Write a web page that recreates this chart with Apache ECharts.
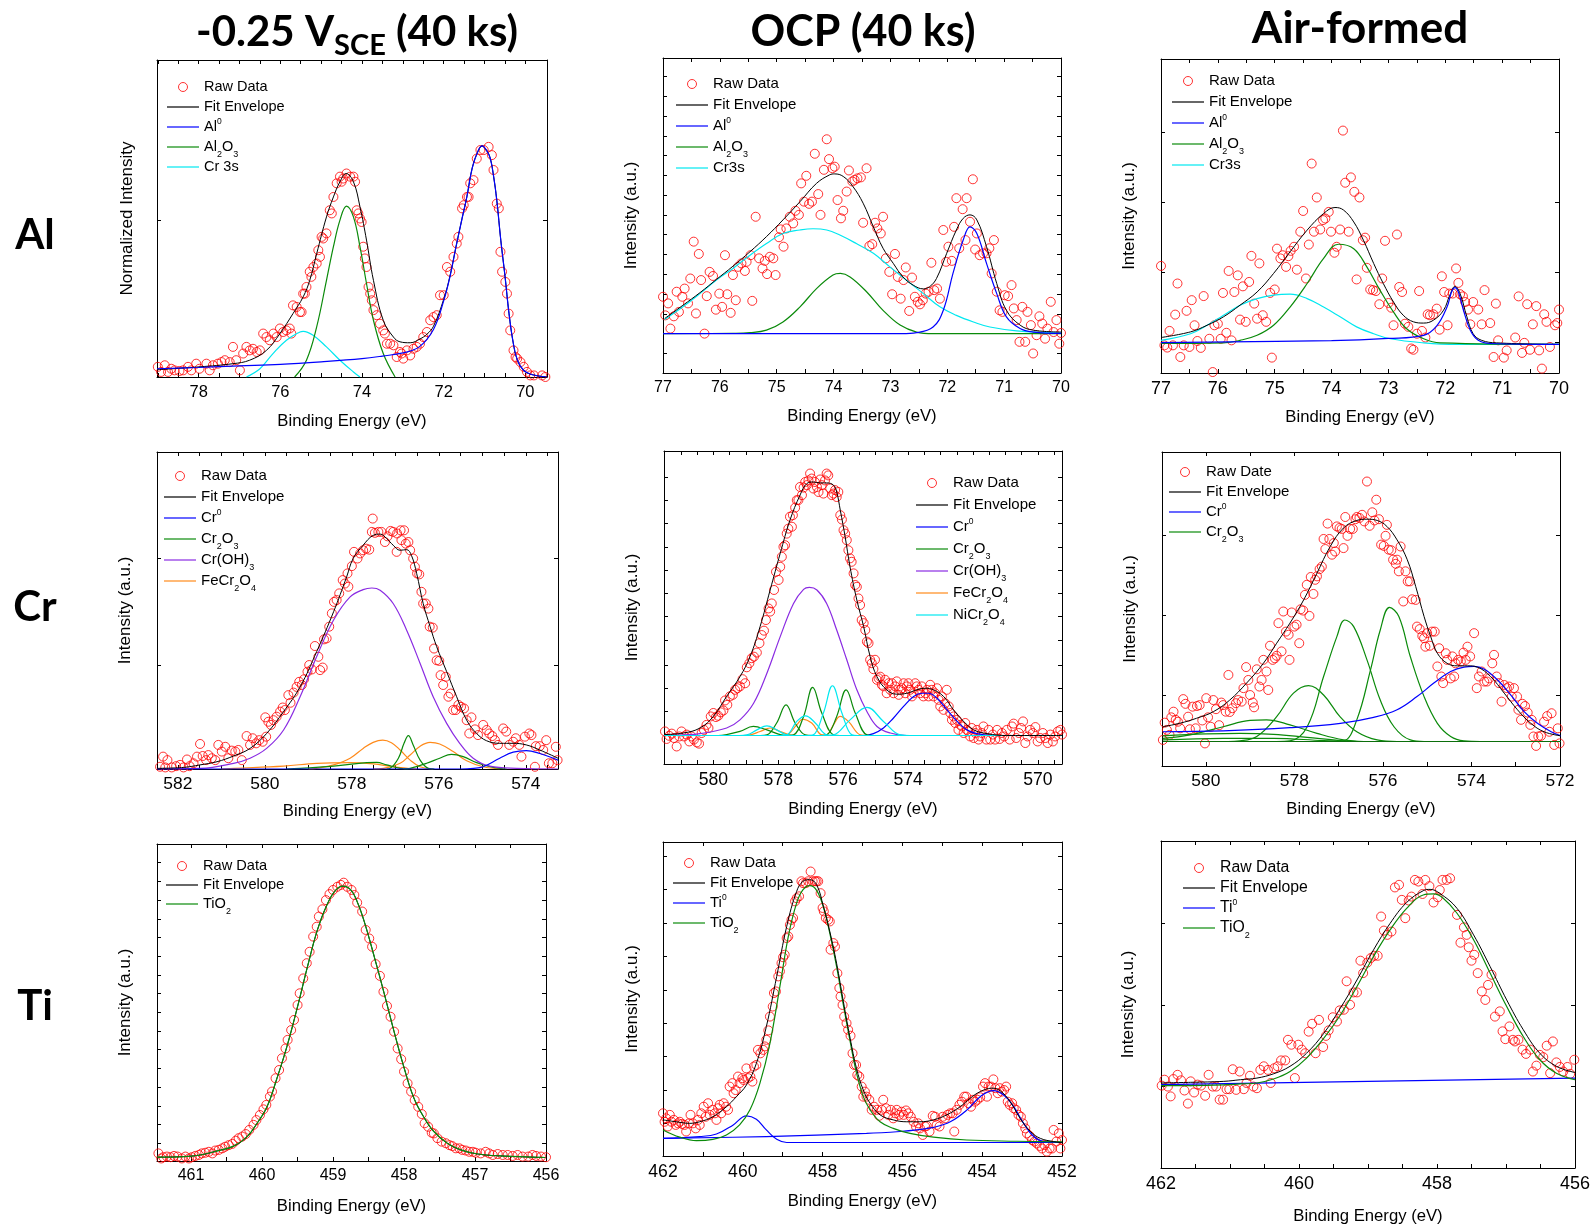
<!DOCTYPE html>
<html>
<head>
<meta charset="utf-8">
<title>XPS spectra</title>
<script src="https://cdn.jsdelivr.net/npm/echarts@6/dist/echarts.min.js"></script>
<style>
  html, body { margin: 0; padding: 0; background: #fff; }
  #chart { width: 1594px; height: 1228px; }
</style>
</head>
<body>
<div id="chart"></div>
<script>
// ---------------- Al 2p, -0.25 V_SCE ----------------
const alNegRaw = [[79.00,32],[78.92,16],[78.83,37],[78.75,16],[78.67,26],[78.59,21],[78.47,19],[78.38,21],[78.26,32],[78.18,21],[78.06,42],[77.98,26],[77.81,42],[77.73,21],[77.65,37],[77.53,42],[77.44,47],[77.36,53],[77.24,47],[77.16,95],[77.08,53],[76.99,21],[76.91,74],[76.83,95],[76.75,84],[76.67,89],[76.58,79],[76.50,84],[76.42,137],[76.34,126],[76.26,116],[76.17,137],[76.09,126],[76.01,153],[75.93,142],[75.85,147],[75.77,153],[75.73,137],[75.69,226],[75.60,221],[75.52,205],[75.48,205],[75.44,263],[75.40,263],[75.36,284],[75.28,332],[75.24,316],[75.19,347],[75.11,358],[75.07,400],[75.03,379],[74.99,442],[74.95,437],[74.87,453],[74.79,526],[74.74,516],[74.70,568],[74.62,611],[74.54,632],[74.50,616],[74.46,626],[74.38,642],[74.29,632],[74.21,632],[74.17,616],[74.13,526],[74.09,516],[74.05,500],[74.01,489],[73.97,411],[73.93,374],[73.89,347],[73.84,284],[73.80,263],[73.76,242],[73.72,211],[73.64,195],[73.56,168],[73.48,147],[73.44,137],[73.39,105],[73.31,105],[73.23,100],[73.15,63],[73.07,79],[73.03,74],[72.99,58],[72.90,84],[72.82,68],[72.74,89],[72.66,95],[72.58,105],[72.50,126],[72.41,142],[72.33,179],[72.25,189],[72.17,195],[72.09,258],[72.00,258],[71.92,347],[71.84,332],[71.76,379],[71.68,421],[71.64,442],[71.55,532],[71.51,542],[71.43,568],[71.39,568],[71.35,611],[71.27,621],[71.19,689],[71.10,716],[71.02,716],[70.90,726],[70.82,700],[70.78,653],[70.70,547],[70.65,532],[70.61,395],[70.57,332],[70.49,300],[70.45,263],[70.41,200],[70.37,147],[70.29,84],[70.24,63],[70.20,58],[70.12,47],[70.04,32],[69.96,16],[69.88,5],[69.79,5],[69.59,5],[69.51,0]];
const alNegEnvelope = [[79.02,23],[77.98,32],[77.16,42],[76.75,53],[76.34,84],[76.01,137],[75.69,200],[75.44,253],[75.28,305],[75.11,389],[74.87,505],[74.70,568],[74.54,616],[74.39,642],[74.21,616],[74.05,537],[73.89,432],[73.72,305],[73.48,179],[73.23,126],[73.07,111],[72.82,108],[72.58,120],[72.41,135],[72.25,160],[72.0,245],[71.84,322],[71.7,410],[71.55,500],[71.43,570],[71.3,660],[71.15,715],[71.06,729],[70.95,715],[70.86,690],[70.78,635],[70.70,558],[70.6,430],[70.5,320],[70.4,200],[70.3,110],[70.2,55],[70.05,22],[69.85,8],[69.47,0]];
const alNegAl0 = [[79.02,26],[78.0,30],[77.0,35],[76.0,40],[75.0,48],[74.0,58],[73.5,66],[73.0,76],[72.6,95],[72.25,150],[72.0,240],[71.84,320],[71.7,410],[71.55,500],[71.43,570],[71.3,660],[71.15,715],[71.06,729],[70.95,715],[70.86,690],[70.78,635],[70.70,558],[70.6,430],[70.5,320],[70.4,200],[70.3,110],[70.2,55],[70.05,22],[69.85,8],[69.47,0]];
const alNegAl2O3 = [[75.65,0],[75.36,53],[75.11,158],[74.87,305],[74.70,411],[74.54,495],[74.38,539],[74.21,505],[74.05,411],[73.89,295],[73.72,179],[73.48,74],[73.19,0]];
const alNegCr3s = [[76.83,0],[76.50,26],[76.18,74],[75.85,116],[75.52,142],[75.44,144],[75.19,131],[74.87,95],[74.54,53],[74.21,16],[74.05,0]];

// ---------------- Al 2p, OCP ----------------
const alOcpRaw = [[77.00,242],[76.96,183],[76.91,221],[76.87,141],[76.81,180],[76.76,258],[76.72,194],[76.66,242],[76.62,268],[76.56,221],[76.52,300],[76.46,417],[76.42,189],[76.37,378],[76.33,295],[76.27,125],[76.23,244],[76.18,321],[76.12,308],[76.07,201],[76.01,252],[75.96,210],[75.91,374],[75.87,250],[75.81,191],[75.77,311],[75.72,231],[75.68,337],[75.62,348],[75.56,324],[75.53,353],[75.46,374],[75.43,229],[75.37,496],[75.31,364],[75.25,332],[75.21,356],[75.17,314],[75.12,369],[75.06,364],[75.02,311],[74.96,431],[74.93,456],[74.88,401],[74.83,459],[74.77,496],[74.71,475],[74.67,515],[74.61,502],[74.57,602],[74.52,544],[74.48,626],[74.43,537],[74.38,544],[74.33,696],[74.27,568],[74.23,502],[74.17,645],[74.12,742],[74.08,679],[74.02,650],[73.98,655],[73.93,549],[73.87,491],[73.83,515],[73.77,576],[73.73,643],[73.67,608],[73.63,613],[73.58,618],[73.52,621],[73.48,477],[73.42,650],[73.37,403],[73.32,409],[73.27,477],[73.23,459],[73.17,443],[73.13,496],[73.08,364],[73.02,321],[72.97,250],[72.92,378],[72.87,305],[72.82,236],[72.77,295],[72.73,335],[72.67,197],[72.62,303],[72.57,242],[72.52,226],[72.48,218],[72.43,231],[72.38,252],[72.33,258],[72.28,350],[72.23,263],[72.18,268],[72.13,236],[72.07,454],[72.02,353],[71.98,401],[71.92,356],[71.88,464],[71.84,555],[71.79,396],[71.73,520],[71.68,422],[71.66,555],[71.60,480],[71.55,615],[71.51,392],[71.48,443],[71.43,374],[71.37,380],[71.31,380],[71.26,396],[71.22,316],[71.18,422],[71.13,258],[71.08,199],[71.03,194],[70.99,247],[70.93,244],[70.87,279],[70.83,205],[70.78,168],[70.73,99],[70.68,210],[70.63,99],[70.59,194],[70.53,152],[70.49,62],[70.43,120],[70.38,180],[70.33,157],[70.28,109],[70.24,141],[70.18,226],[70.13,130],[70.08,168],[70.03,93],[70.00,127]];
const alOcpEnvelope = [[76.97,173],[76.65,215],[76.35,255],[76.06,297],[75.77,339],[75.47,385],[75.18,433],[74.89,486],[74.59,544],[74.30,602],[74.07,629],[73.98,632],[73.83,624],[73.66,592],[73.48,539],[73.30,464],[73.13,396],[72.95,348],[72.78,305],[72.60,279],[72.42,267],[72.31,274],[72.19,300],[72.01,380],[71.84,454],[71.72,491],[71.60,502],[71.48,486],[71.31,401],[71.13,284],[70.96,199],[70.72,152],[70.49,136],[70.0,130]];
const alOcpAl0 = [[77.0,125],[72.8,125],[72.54,128],[72.25,146],[72.07,199],[71.90,316],[71.72,422],[71.60,464],[71.48,443],[71.31,348],[71.13,252],[70.96,178],[70.72,141],[70.49,130],[70.0,126]];
const alOcpAl2O3 = [[77.0,125],[75.77,126],[75.47,128],[75.18,136],[74.89,162],[74.59,210],[74.30,268],[74.01,311],[73.88,316],[73.71,305],[73.42,258],[73.13,199],[72.83,152],[72.54,130],[72.25,125],[70.0,125]];
const alOcpCr3s = [[76.97,170],[76.65,210],[76.35,252],[76.06,295],[75.77,332],[75.47,374],[75.18,411],[74.89,443],[74.59,454],[74.36,458],[74.12,454],[73.89,438],[73.60,411],[73.30,380],[73.01,337],[72.72,295],[72.42,252],[72.13,210],[71.84,183],[71.54,162],[71.25,146],[70.78,134],[70.00,127]];

// ---------------- Al 2p, air-formed ----------------
const alAirRaw = [[77.00,341],[76.94,88],[76.89,81],[76.85,134],[76.79,88],[76.75,186],[76.71,285],[76.66,51],[76.60,88],[76.55,198],[76.50,83],[76.46,232],[76.41,152],[76.36,102],[76.30,80],[76.25,245],[76.15,109],[76.09,3],[76.06,152],[76.00,157],[75.95,109],[75.91,255],[75.85,128],[75.81,325],[75.76,104],[75.71,258],[75.65,311],[75.61,170],[75.56,276],[75.51,163],[75.45,290],[75.41,373],[75.36,221],[75.31,173],[75.27,349],[75.21,184],[75.15,163],[75.08,255],[75.05,49],[75.00,266],[74.96,396],[74.90,365],[74.86,375],[74.80,338],[74.76,372],[74.72,389],[74.66,402],[74.61,329],[74.55,450],[74.50,516],[74.45,301],[74.40,409],[74.35,667],[74.31,450],[74.26,559],[74.20,457],[74.15,487],[74.11,492],[74.05,513],[74.01,450],[73.95,383],[73.91,402],[73.85,457],[73.80,772],[73.76,606],[73.70,450],[73.66,623],[73.60,577],[73.56,298],[73.51,559],[73.45,423],[73.41,431],[73.38,335],[73.32,266],[73.27,264],[73.22,261],[73.16,219],[73.11,301],[73.06,421],[73.00,223],[72.95,208],[72.91,152],[72.85,441],[72.81,274],[72.76,258],[72.71,157],[72.65,147],[72.60,78],[72.56,74],[72.50,125],[72.46,261],[72.41,134],[72.35,113],[72.31,187],[72.27,184],[72.21,187],[72.15,205],[72.10,138],[72.06,308],[72.02,258],[71.96,152],[71.93,253],[71.87,253],[71.81,333],[71.77,287],[71.74,251],[71.69,244],[71.65,226],[71.60,202],[71.56,155],[71.51,226],[71.42,202],[71.36,155],[71.31,264],[71.21,159],[71.15,51],[71.11,221],[71.07,104],[70.97,49],[70.92,72],[70.77,113],[70.71,244],[70.65,64],[70.61,96],[70.56,219],[70.51,74],[70.46,155],[70.40,213],[70.35,72],[70.30,14],[70.26,187],[70.22,163],[70.16,83],[70.07,152],[70.03,159],[70.00,202]];
const alAirEnvelope = [[77.0,113],[76.48,131],[76.19,152],[75.90,179],[75.61,216],[75.31,258],[75.02,317],[74.73,386],[74.43,455],[74.14,508],[73.94,527],[73.79,519],[73.61,481],[73.44,423],[73.26,349],[73.09,285],[72.91,226],[72.74,184],[72.56,163],[72.38,159],[72.21,168],[72.03,200],[71.92,248],[71.83,276],[71.74,253],[71.62,179],[71.51,125],[71.36,104],[71.10,96],[70.0,91]];
const alAirAl0 = [[77.0,97],[74.0,103],[73.0,110],[72.38,120],[72.15,150],[71.97,210],[71.89,258],[71.83,272],[71.77,258],[71.68,200],[71.56,136],[71.42,104],[71.21,94],[70.0,91]];
const alAirAl2O3 = [[77.0,94],[75.90,96],[75.61,104],[75.31,120],[75.02,152],[74.73,210],[74.43,285],[74.14,365],[73.88,410],[73.61,396],[73.38,338],[73.15,264],[72.91,194],[72.68,141],[72.38,109],[72.09,96],[70.0,91]];
const alAirCr3s = [[77.0,104],[76.48,125],[76.19,152],[75.90,184],[75.61,216],[75.31,237],[75.02,248],[74.73,251],[74.43,237],[74.14,210],[73.85,179],[73.56,147],[73.26,125],[72.97,109],[72.38,96],[71.80,91],[70.0,91]];

// ---------------- Cr 2p3/2, -0.25 V_SCE ----------------
const crNegRaw = [[582.41,7],[582.34,39],[582.29,5],[582.24,28],[582.14,5],[582.04,9],[581.95,13],[581.87,5],[581.79,30],[581.73,9],[581.64,18],[581.56,39],[581.49,79],[581.43,41],[581.35,28],[581.30,44],[581.22,34],[581.14,28],[581.07,76],[580.99,55],[580.91,70],[580.84,34],[580.76,58],[580.68,55],[580.61,60],[580.53,28],[580.42,104],[580.34,76],[580.28,97],[580.20,81],[580.13,91],[580.05,86],[579.99,163],[579.97,102],[579.92,149],[579.86,139],[579.80,154],[579.73,165],[579.65,181],[579.59,194],[579.54,186],[579.46,233],[579.41,209],[579.34,241],[579.27,259],[579.21,275],[579.15,265],[579.10,283],[579.02,307],[578.98,328],[578.92,314],[578.85,388],[578.77,354],[578.73,312],[578.67,320],[578.64,409],[578.58,412],[578.52,449],[578.46,491],[578.41,527],[578.35,533],[578.29,554],[578.21,596],[578.16,585],[578.10,617],[578.08,575],[578.00,640],[577.95,685],[577.87,664],[577.81,680],[577.74,690],[577.67,695],[577.60,692],[577.54,748],[577.52,790],[577.47,745],[577.39,748],[577.32,748],[577.24,716],[577.18,734],[577.11,751],[577.05,748],[576.97,685],[576.96,743],[576.88,753],[576.86,722],[576.80,753],[576.76,711],[576.70,716],[576.66,690],[576.59,664],[576.55,638],[576.50,617],[576.45,614],[576.40,559],[576.36,522],[576.30,522],[576.24,506],[576.21,449],[576.14,446],[576.11,380],[576.05,343],[575.99,341],[575.96,296],[575.90,265],[575.84,291],[575.78,228],[575.73,238],[575.67,186],[575.61,186],[575.55,202],[575.49,196],[575.42,191],[575.36,154],[575.30,112],[575.25,163],[575.17,125],[575.10,107],[574.98,139],[574.90,123],[574.84,112],[574.77,104],[574.71,91],[574.64,76],[574.52,128],[574.45,118],[574.38,76],[574.29,86],[574.23,97],[574.15,76],[574.10,39],[574.02,102],[573.92,112],[573.87,107],[573.79,7],[573.77,72],[573.68,72],[573.60,60],[573.53,91],[573.47,18],[573.39,18],[573.31,70],[573.27,28]];
const crNegEnvelope = [[582.48,2],[581.87,5],[581.49,13],[581.10,23],[580.72,41],[580.34,65],[579.96,112],[579.57,181],[579.19,259],[578.81,370],[578.42,496],[578.12,606],[577.97,664],[577.74,706],[577.51,737],[577.35,741],[577.20,727],[577.05,706],[576.89,690],[576.74,692],[576.63,674],[576.51,617],[576.36,522],[576.20,449],[576.05,386],[575.82,307],[575.59,228],[575.36,154],[575.13,112],[574.90,89],[574.60,81],[574.29,81],[573.99,76],[573.68,60],[573.26,34]];
const crNegCr0 = [[582.48,0],[575.5,0],[575.2,2],[574.98,7],[574.60,34],[574.29,53],[573.99,58],[573.68,49],[573.26,28]];
const crNegCrOH3 = [[582.48,0],[581.49,2],[580.72,18],[580.34,34],[579.96,65],[579.57,123],[579.19,228],[578.81,354],[578.42,470],[578.04,543],[577.74,566],[577.54,571],[577.35,564],[577.05,522],[576.74,438],[576.43,333],[576.13,228],[575.82,144],[575.52,81],[575.21,34],[574.83,9],[574.21,2],[573.26,0]];
const crNegCr2O3A = [[577.2,0],[577.12,2],[576.93,34],[576.80,81],[576.70,105],[576.59,76],[576.43,28],[576.24,2],[576.1,0]];
const crNegCr2O3B = [[576.8,0],[576.66,2],[576.28,18],[575.98,34],[575.71,46],[575.44,39],[575.13,20],[574.75,5],[574.44,0]];
const crNegCr2O3C = [[579.5,0],[579.19,2],[578.42,9],[577.66,20],[577.43,21],[577.20,13],[576.89,2],[576.7,0]];
const crNegFeCr2O4A = [[579.0,0],[578.81,2],[578.42,13],[578.04,34],[577.74,65],[577.51,84],[577.29,91],[577.09,83],[576.89,60],[576.66,28],[576.43,7],[576.13,0]];
const crNegFeCr2O4B = [[577.5,0],[577.28,2],[576.89,18],[576.66,44],[576.43,72],[576.20,84],[575.98,79],[575.67,55],[575.36,26],[574.98,7],[574.60,0]];
const crNegFeCr2O4C = [[581.0,0],[580.72,2],[579.57,9],[578.81,18],[578.04,20],[577.51,16],[577.05,7],[576.51,0]];

// ---------------- Cr 2p3/2, OCP ----------------
const crOcpRaw = [[581.49,104],[581.44,80],[581.36,90],[581.28,97],[581.21,83],[581.13,56],[581.05,88],[580.98,104],[580.90,88],[580.82,94],[580.74,72],[580.67,88],[580.60,78],[580.51,69],[580.44,65],[580.36,99],[580.29,109],[580.21,125],[580.15,115],[580.08,152],[580.00,163],[579.92,150],[579.85,154],[579.77,165],[579.69,171],[579.64,203],[579.57,189],[579.49,216],[579.40,221],[579.33,237],[579.26,242],[579.18,248],[579.10,271],[579.02,258],[578.97,309],[578.89,322],[578.82,338],[578.75,343],[578.66,356],[578.58,386],[578.51,412],[578.44,426],[578.38,460],[578.30,497],[578.25,487],[578.20,513],[578.13,556],[578.07,614],[577.99,588],[577.94,630],[577.89,662],[577.84,694],[577.79,699],[577.74,736],[577.69,752],[577.64,790],[577.58,758],[577.55,795],[577.48,819],[577.43,843],[577.38,843],[577.33,885],[577.27,859],[577.22,883],[577.17,901],[577.12,891],[577.07,906],[577.02,928],[576.97,912],[576.92,880],[576.87,901],[576.81,885],[576.76,869],[576.71,909],[576.66,891],[576.61,864],[576.56,906],[576.51,928],[576.46,922],[576.40,880],[576.35,859],[576.30,864],[576.25,875],[576.20,853],[576.15,869],[576.09,795],[576.04,781],[575.99,747],[575.94,736],[575.89,715],[575.84,683],[575.79,657],[575.74,646],[575.68,609],[575.63,572],[575.58,566],[575.53,529],[575.48,508],[575.43,460],[575.37,450],[575.32,428],[575.27,391],[575.22,386],[575.17,333],[575.12,322],[575.07,303],[575.02,333],[574.96,269],[574.91,274],[574.86,279],[574.81,253],[574.76,248],[574.71,269],[574.66,226],[574.60,258],[574.55,237],[574.50,258],[574.45,226],[574.40,248],[574.35,264],[574.29,221],[574.24,237],[574.19,242],[574.14,258],[574.09,226],[574.04,248],[573.99,258],[573.94,237],[573.88,216],[573.83,226],[573.78,258],[573.73,248],[573.68,237],[573.63,226],[573.58,248],[573.53,216],[573.47,226],[573.42,237],[573.37,216],[573.32,253],[573.27,237],[573.22,216],[573.17,226],[573.11,242],[573.06,205],[573.01,184],[572.96,216],[572.91,173],[572.86,194],[572.81,237],[572.75,184],[572.70,163],[572.65,141],[572.60,152],[572.55,131],[572.50,141],[572.45,109],[572.39,125],[572.34,120],[572.29,99],[572.24,131],[572.19,109],[572.14,104],[572.09,88],[572.04,115],[571.98,83],[571.93,99],[571.88,109],[571.83,78],[571.78,88],[571.73,99],[571.68,120],[571.59,78],[571.52,109],[571.47,78],[571.39,94],[571.32,78],[571.26,109],[571.18,80],[571.11,99],[571.04,88],[570.96,109],[570.87,78],[570.80,120],[570.75,129],[570.67,83],[570.59,99],[570.52,115],[570.46,136],[570.39,67],[570.32,88],[570.24,109],[570.16,99],[570.08,118],[570.01,72],[569.93,83],[569.85,99],[569.77,83],[569.70,67],[569.62,94],[569.54,72],[569.47,88],[569.39,104],[569.31,109],[569.26,94]];
const crOcpEnvelope = [[581.52,94],[580.92,99],[580.41,115],[580.00,152],[579.59,216],[579.18,279],[578.87,343],[578.56,439],[578.25,556],[577.94,673],[577.64,779],[577.33,859],[577.12,896],[576.92,901],[576.71,898],[576.51,898],[576.30,891],[576.20,869],[576.09,811],[575.94,726],[575.79,630],[575.58,524],[575.37,439],[575.17,343],[574.96,279],[574.66,237],[574.35,223],[574.04,226],[573.73,237],[573.47,242],[573.22,237],[572.91,216],[572.60,173],[572.29,136],[571.98,109],[571.57,97],[570.96,91],[569.26,91]];
const crOcpCr0 = [[581.52,91],[575.4,91],[575.07,97],[574.76,115],[574.45,147],[574.14,184],[573.83,216],[573.57,226],[573.37,226],[573.11,210],[572.80,173],[572.49,136],[572.19,109],[571.88,97],[571.37,91],[569.26,91]];
const crOcpCrOH3 = [[581.52,91],[580.9,93],[580.41,97],[579.59,115],[579.18,141],[578.76,194],[578.35,290],[577.94,407],[577.53,513],[577.22,558],[577.04,564],[576.81,556],[576.51,513],[576.20,428],[575.89,333],[575.58,237],[575.27,168],[574.96,120],[574.55,99],[574.04,91],[569.26,91]];
const crOcpCr2O3A = [[581.52,91],[579.85,91],[579.59,94],[579.18,104],[578.77,120],[578.35,109],[577.94,94],[577.7,91],[569.26,91]];
const crOcpCr2O3B = [[581.52,91],[578.55,91],[578.35,93],[578.05,131],[577.76,189],[577.48,131],[577.17,93],[576.95,91],[569.26,91]];
const crOcpCr2O3C = [[581.52,91],[577.75,91],[577.53,93],[577.22,152],[576.94,245],[576.66,163],[576.30,93],[576.1,91],[569.26,91]];
const crOcpCr2O3D = [[581.52,91],[576.7,91],[576.51,93],[576.20,152],[575.91,237],[575.63,163],[575.27,93],[575.05,91],[569.26,91]];
const crOcpFeCr2O4A = [[581.52,91],[579.1,91],[578.87,93],[578.56,104],[578.25,115],[577.94,104],[577.64,93],[577.4,91],[569.26,91]];
const crOcpFeCr2O4B = [[581.52,91],[577.95,91],[577.74,93],[577.43,125],[577.25,143],[576.97,131],[576.66,93],[576.45,91],[569.26,91]];
const crOcpFeCr2O4C = [[581.52,91],[576.7,91],[576.51,93],[576.30,125],[576.09,152],[575.84,136],[575.47,93],[575.25,91],[569.26,91]];
const crOcpNiCr2O4A = [[581.52,91],[579.2,91],[578.97,93],[578.66,109],[578.35,122],[578.05,109],[577.74,93],[577.5,91],[569.26,91]];
const crOcpNiCr2O4B = [[581.52,91],[577.95,91],[577.74,93],[577.43,136],[577.16,154],[576.86,131],[576.51,93],[576.3,91],[569.26,91]];
const crOcpNiCr2O4C = [[581.52,91],[577.1,91],[576.92,93],[576.61,163],[576.33,250],[576.04,163],[575.73,93],[575.55,91],[569.26,91]];
const crOcpNiCr2O4D = [[581.52,91],[576.55,91],[576.30,93],[575.79,141],[575.27,181],[574.76,136],[574.24,93],[573.95,91],[569.26,91]];

// ---------------- Cr 2p3/2, air-formed ----------------
const crAirRaw = [[580.97,83],[580.93,138],[580.88,115],[580.82,99],[580.78,155],[580.73,173],[580.68,147],[580.63,141],[580.58,120],[580.51,213],[580.46,198],[580.40,157],[580.36,117],[580.30,189],[580.23,120],[580.20,191],[580.14,194],[580.08,145],[580.02,72],[579.99,216],[579.95,155],[579.89,125],[579.83,210],[579.77,181],[579.70,130],[579.65,202],[579.61,194],[579.55,173],[579.49,290],[579.46,172],[579.40,184],[579.32,200],[579.27,210],[579.19,205],[579.15,248],[579.09,315],[579.04,274],[579.00,226],[578.94,202],[578.91,187],[578.85,308],[578.79,253],[578.74,274],[578.70,338],[578.63,301],[578.59,242],[578.55,383],[578.49,338],[578.44,343],[578.40,351],[578.36,455],[578.29,365],[578.25,492],[578.19,428],[578.13,418],[578.11,338],[578.06,489],[578.00,444],[577.95,450],[577.89,391],[577.86,499],[577.80,495],[577.76,545],[577.72,577],[577.66,478],[577.63,602],[577.57,548],[577.53,593],[577.49,604],[577.43,627],[577.38,635],[577.34,723],[577.30,691],[577.25,772],[577.21,723],[577.15,673],[577.11,710],[577.08,683],[577.04,763],[576.98,758],[576.93,755],[576.89,694],[576.85,793],[576.80,733],[576.74,755],[576.68,755],[576.62,786],[576.59,793],[576.53,790],[576.47,800],[576.42,779],[576.36,906],[576.30,765],[576.24,808],[576.19,782],[576.15,848],[576.09,786],[576.04,705],[575.98,701],[575.94,733],[575.91,768],[575.87,689],[575.81,687],[575.77,657],[575.71,644],[575.68,657],[575.64,620],[575.60,699],[575.54,524],[575.49,620],[575.44,588],[575.39,588],[575.34,531],[575.26,529],[575.23,444],[575.17,436],[575.11,414],[575.07,407],[575.04,380],[575.00,423],[574.94,383],[574.89,428],[574.83,428],[574.77,317],[574.73,375],[574.68,285],[574.64,264],[574.58,359],[574.55,338],[574.47,279],[574.43,349],[574.39,285],[574.36,327],[574.30,338],[574.24,333],[574.18,361],[574.13,338],[574.09,380],[574.03,349],[573.94,423],[573.88,248],[573.83,285],[573.77,301],[573.71,269],[573.65,269],[573.60,279],[573.53,327],[573.49,354],[573.43,285],[573.38,264],[573.32,205],[573.26,258],[573.20,248],[573.15,253],[573.09,221],[573.04,248],[572.97,221],[572.94,179],[572.88,147],[572.85,198],[572.79,191],[572.73,170],[572.67,131],[572.64,147],[572.60,94],[572.54,64],[572.49,94],[572.43,96],[572.36,141],[572.29,159],[572.24,109],[572.19,168],[572.13,67],[572.05,120],[572.01,72]];
const crAirEnvelope = [[580.97,125],[580.59,136],[580.21,152],[579.83,173],[579.46,210],[579.08,264],[578.70,327],[578.40,391],[578.10,455],[577.79,529],[577.49,614],[577.19,699],[576.89,758],[576.59,782],[576.36,786],[576.13,782],[575.91,763],[575.68,720],[575.45,657],[575.26,572],[575.07,476],[574.92,412],[574.77,359],[574.55,327],[574.32,319],[574.09,319],[573.87,315],[573.57,285],[573.26,232],[572.96,179],[572.66,136],[572.36,109],[571.98,96]];
const crAirCr0 = [[580.97,109],[579.61,112],[578.10,122],[576.96,136],[576.21,155],[575.68,179],[575.23,221],[574.85,264],[574.47,301],[574.17,315],[573.94,317],[573.71,308],[573.41,274],[573.11,226],[572.81,173],[572.51,136],[572.20,109],[571.98,96]];
const crAirCr2O3A = [[577.2,78],[576.89,80],[576.59,147],[576.28,306],[576.06,433],[575.85,505],[575.64,476],[575.38,348],[575.07,221],[574.77,136],[574.47,94],[574.17,80],[573.8,78]];
const crAirCr2O3B = [[578.4,78],[578.10,80],[577.71,125],[577.34,285],[577.04,412],[576.86,465],[576.66,444],[576.36,338],[576.06,210],[575.75,125],[575.38,83],[575.07,78]];
const crAirCr2O3C = [[579.5,78],[579.23,80],[578.85,94],[578.40,157],[578.02,232],[577.68,256],[577.34,226],[576.97,157],[576.59,109],[576.13,83],[575.68,78]];
const crAirCr2O3D = [[580.97,88],[580.36,99],[579.61,125],[579.00,145],[578.63,147],[578.10,131],[577.49,104],[576.89,83],[576.43,78]];
const crAirCr2O3E = [[580.97,96],[579.99,102],[579.23,104],[578.47,101],[577.71,91],[576.97,81],[576.59,78]];
const crAirCr2O3F = [[580.97,83],[579.61,88],[578.47,88],[577.34,81],[576.59,78]];
const crAirBaseline = [[580.97,78],[571.98,78]];

// ---------------- Ti 2p3/2, -0.25 V_SCE ----------------
const tiNegRaw = [[461.46,24],[461.42,8],[461.39,12],[461.34,14],[461.29,12],[461.24,16],[461.19,14],[461.13,8],[461.08,14],[461.03,8],[460.99,12],[460.94,16],[460.89,19],[460.85,24],[460.80,26],[460.75,29],[460.70,24],[460.66,33],[460.61,35],[460.56,40],[460.52,45],[460.47,50],[460.42,54],[460.37,64],[460.33,72],[460.28,77],[460.23,85],[460.18,98],[460.12,114],[460.08,129],[460.03,145],[459.98,163],[459.94,177],[459.89,203],[459.86,219],[459.81,261],[459.76,287],[459.72,324],[459.67,355],[459.64,382],[459.59,413],[459.55,445],[459.50,492],[459.47,529],[459.42,576],[459.37,624],[459.33,660],[459.28,708],[459.23,739],[459.20,771],[459.15,794],[459.10,823],[459.05,842],[459.00,855],[458.94,865],[458.89,871],[458.85,878],[458.80,865],[458.74,855],[458.70,839],[458.66,815],[458.59,787],[458.54,729],[458.49,702],[458.45,676],[458.40,621],[458.34,584],[458.29,534],[458.24,489],[458.19,455],[458.14,408],[458.09,355],[458.04,321],[458.00,282],[457.95,245],[457.90,219],[457.85,192],[457.80,171],[457.75,148],[457.71,119],[457.66,108],[457.61,89],[457.58,87],[457.53,72],[457.47,61],[457.41,56],[457.36,50],[457.32,47],[457.27,40],[457.22,40],[457.18,35],[457.13,33],[457.08,29],[457.03,29],[456.99,26],[456.92,24],[456.85,29],[456.80,24],[456.75,19],[456.68,22],[456.61,19],[456.54,19],[456.47,16],[456.40,19],[456.33,14],[456.25,14],[456.19,19],[456.14,16],[456.07,14],[456.00,12]];
const tiNegTiO2 = [[461.48,12],[461.10,14],[460.87,19],[460.63,32],[460.40,47],[460.21,77],[460.07,119],[459.93,171],[459.79,261],[459.65,361],[459.50,487],[459.36,613],[459.22,729],[459.08,811],[458.96,855],[458.86,867],[458.75,855],[458.66,818],[458.56,755],[458.42,645],[458.28,529],[458.14,408],[457.99,287],[457.86,198],[457.72,138],[457.58,93],[457.39,56],[457.20,35],[456.96,22],[456.64,16],[456.01,11]];
const tiNegEnvelope = tiNegTiO2;

// ---------------- Ti 2p3/2, OCP ----------------
const tiOcpRaw = [[462.00,136],[461.96,109],[461.92,120],[461.88,94],[461.83,131],[461.79,109],[461.73,115],[461.68,99],[461.62,104],[461.58,109],[461.52,102],[461.46,99],[461.42,78],[461.35,104],[461.31,131],[461.25,104],[461.18,88],[461.12,115],[461.08,99],[461.04,136],[460.98,157],[460.93,125],[460.87,168],[460.83,131],[460.76,147],[460.70,136],[460.66,115],[460.62,152],[460.58,163],[460.54,136],[460.48,168],[460.42,157],[460.37,147],[460.33,221],[460.26,232],[460.23,200],[460.18,210],[460.12,253],[460.08,232],[460.01,248],[459.98,242],[459.91,279],[459.87,248],[459.81,253],[459.76,237],[459.72,285],[459.66,290],[459.62,338],[459.56,327],[459.49,338],[459.45,349],[459.41,370],[459.36,400],[459.32,444],[459.25,476],[459.22,519],[459.17,524],[459.11,572],[459.07,588],[459.03,614],[458.99,633],[458.95,641],[458.90,694],[458.86,699],[458.82,736],[458.78,752],[458.74,758],[458.69,811],[458.65,821],[458.59,827],[458.53,875],[458.49,869],[458.42,869],[458.36,875],[458.30,906],[458.25,875],[458.19,875],[458.15,875],[458.11,875],[458.05,837],[458.00,790],[457.97,779],[457.92,758],[457.86,752],[457.82,747],[457.80,657],[457.73,678],[457.69,667],[457.63,582],[457.58,535],[457.55,508],[457.50,481],[457.46,444],[457.40,423],[457.36,402],[457.30,383],[457.25,327],[457.21,290],[457.16,290],[457.13,258],[457.08,253],[457.02,221],[456.98,189],[456.94,205],[456.90,189],[456.83,179],[456.77,147],[456.71,157],[456.64,147],[456.58,128],[456.52,147],[456.48,179],[456.41,152],[456.35,131],[456.29,147],[456.23,120],[456.18,136],[456.14,147],[456.08,131],[456.02,141],[455.97,131],[455.91,145],[455.85,136],[455.79,125],[455.72,109],[455.66,94],[455.60,104],[455.56,88],[455.49,67],[455.43,94],[455.39,96],[455.32,78],[455.24,128],[455.18,125],[455.14,99],[455.07,94],[454.99,125],[454.93,120],[454.87,131],[454.80,136],[454.74,136],[454.70,78],[454.64,147],[454.57,163],[454.51,173],[454.45,189],[454.40,189],[454.34,168],[454.28,157],[454.23,179],[454.18,173],[454.12,179],[454.05,187],[453.98,221],[453.93,232],[453.88,189],[453.84,221],[453.78,221],[453.72,244],[453.67,216],[453.61,200],[453.56,216],[453.51,205],[453.45,210],[453.40,221],[453.36,173],[453.31,163],[453.25,168],[453.21,152],[453.15,147],[453.09,131],[453.03,125],[452.98,104],[452.92,88],[452.88,72],[452.81,64],[452.75,51],[452.69,46],[452.63,40],[452.56,32],[452.50,24],[452.44,35],[452.38,14],[452.31,24],[452.25,24],[452.21,83],[452.14,46],[452.08,72],[452.04,24],[452.00,51]];
const tiOcpEnvelope = [[462.00,115],[461.67,109],[461.33,104],[461.08,109],[460.75,125],[460.41,157],[460.16,189],[459.91,226],[459.66,295],[459.41,412],[459.15,572],[458.90,731],[458.65,843],[458.49,875],[458.32,880],[458.15,864],[457.98,795],[457.82,715],[457.65,614],[457.48,492],[457.31,375],[457.15,279],[456.98,210],[456.81,168],[456.56,131],[456.23,115],[455.89,109],[455.56,109],[455.22,115],[454.89,131],[454.55,157],[454.30,184],[454.05,205],[453.76,216],[453.55,208],[453.30,173],[453.05,120],[452.79,78],[452.54,56],[452.21,46],[452.00,43]];
const tiOcpTi0A = [[462.00,56],[461.08,62],[460.66,70],[460.24,99],[459.91,128],[459.66,117],[459.41,83],[459.15,53],[458.90,43],[452.00,43]];
const tiOcpTi0B = [[462.00,56],[459.41,62],[456.90,72],[456.06,78],[455.64,83],[455.22,91],[454.80,109],[454.38,147],[454.05,189],[453.72,208],[453.46,194],[453.21,157],[452.96,104],[452.71,62],[452.46,46],[452.00,43]];
const tiOcpTiO2 = [[462.00,83],[461.58,60],[461.16,49],[460.75,53],[460.41,67],[460.08,99],[459.82,147],[459.57,232],[459.32,359],[459.07,540],[458.86,699],[458.65,806],[458.49,848],[458.32,861],[458.15,846],[457.98,793],[457.82,710],[457.65,604],[457.48,481],[457.31,365],[457.15,264],[456.98,189],[456.81,147],[456.56,109],[456.23,88],[455.81,72],[455.22,60],[454.39,51],[453.13,47],[452.00,45]];

// ---------------- Ti 2p3/2, air-formed ----------------
const tiAirRaw = [[461.99,252],[461.95,270],[461.90,249],[461.86,219],[461.82,272],[461.76,285],[461.71,268],[461.66,237],[461.61,197],[461.57,265],[461.52,231],[461.47,255],[461.42,252],[461.36,221],[461.31,285],[461.25,249],[461.20,249],[461.15,209],[461.10,209],[461.05,241],[461.01,241],[460.96,302],[460.91,239],[460.86,295],[460.80,241],[460.76,260],[460.71,282],[460.66,249],[460.61,244],[460.56,300],[460.51,311],[460.45,300],[460.41,260],[460.36,305],[460.31,311],[460.26,329],[460.20,329],[460.16,392],[460.11,377],[460.06,275],[460.01,377],[459.96,362],[459.91,351],[459.86,417],[459.81,441],[459.76,351],[459.71,453],[459.65,370],[459.61,404],[459.57,421],[459.51,461],[459.45,448],[459.41,482],[459.35,484],[459.31,571],[459.26,499],[459.21,537],[459.16,537],[459.11,634],[459.07,596],[459.01,628],[458.96,642],[458.91,649],[458.86,649],[458.81,769],[458.77,726],[458.72,713],[458.66,723],[458.61,858],[458.55,866],[458.51,820],[458.46,764],[458.41,818],[458.37,830],[458.32,881],[458.27,876],[458.21,838],[458.17,881],[458.11,862],[458.05,812],[457.99,828],[457.96,850],[457.92,881],[457.86,881],[457.81,886],[457.71,774],[457.66,689],[457.61,736],[457.57,713],[457.54,675],[457.50,634],[457.46,652],[457.41,596],[457.35,540],[457.30,514],[457.26,560],[457.21,591],[457.16,463],[457.09,479],[457.05,418],[457.01,394],[456.95,433],[456.90,392],[456.87,387],[456.82,392],[456.76,362],[456.71,349],[456.65,362],[456.61,295],[456.56,313],[456.51,346],[456.46,339],[456.41,374],[456.36,290],[456.32,387],[456.27,323],[456.22,309],[456.17,295],[456.11,309],[456.07,288],[456.01,331]];
const tiAirEnvelope = [[462.00,260],[461.57,262],[461.09,265],[460.85,270],[460.61,275],[460.37,288],[460.13,311],[459.89,351],[459.64,412],[459.40,489],[459.16,575],[458.92,667],[458.68,748],[458.44,812],[458.20,848],[458.10,852],[457.96,840],[457.71,794],[457.47,713],[457.23,616],[456.99,514],[456.75,423],[456.51,351],[456.27,311],[456.00,292]];
const tiAirTi0 = [[462.00,255],[456.00,275]];
const tiAirTiO2 = [[462.00,252],[461.57,252],[461.09,254],[460.85,257],[460.61,260],[460.37,272],[460.13,295],[459.89,336],[459.64,397],[459.40,468],[459.16,555],[458.92,647],[458.68,728],[458.44,794],[458.20,835],[458.05,838],[457.91,825],[457.71,779],[457.47,698],[457.23,596],[456.99,494],[456.75,402],[456.51,331],[456.27,290],[456.00,270]];

// ---------------- axis ticks and labels ----------------
const alNegXTicks = [70,70.5,71,71.5,72,72.5,73,73.5,74,74.5,75,75.5,76,76.5,77,77.5,78,78.5,79];
const alNegXLabels = [70,72,74,76,78];
const alXTicks = [70,70.5,71,71.5,72,72.5,73,73.5,74,74.5,75,75.5,76,76.5,77];
const alXLabels = [70,71,72,73,74,75,76,77];
const crNegXTicks = [573.5,574,574.5,575,575.5,576,576.5,577,577.5,578,578.5,579,579.5,580,580.5,581,581.5,582];
const crNegXLabels = [574,576,578,580,582];
const crOcpXTicks = [569.5,570,570.5,571,571.5,572,572.5,573,573.5,574,574.5,575,575.5,576,576.5,577,577.5,578,578.5,579,579.5,580,580.5,581,581.5];
const crOcpXLabels = [570,572,574,576,578,580];
const crAirXTicks = [572,573,574,575,576,577,578,579,580];
const crAirXLabels = [572,574,576,578,580];
const tiNegXTicks = [456,456.5,457,457.5,458,458.5,459,459.5,460,460.5,461];
const tiNegXLabels = [456,457,458,459,460,461];
const tiOcpXTicks = [452,453,454,455,456,457,458,459,460,461,462];
const tiOcpXLabels = [452,454,456,458,460,462];
const tiAirXTicks = [456,456.5,457,457.5,458,458.5,459,459.5,460,460.5,461,461.5,462];
const tiAirXLabels = [456,458,460,462];

const alNegYTicks = [495];
const alOcpYTicks = [62,125,188,251,313,376,439,502,564,627,690,752,815,878,941];
const alAirYTicks = [99,322,545,768];
const crNegYTicks = [328,664];
const crOcpYTicks = [93,168,242,317,396,471,545,620,694,768,843,917];
const crAirYTicks = [226,481,736];
const tiNegYTicks = [56,115,174,233,292,351,410,469,528,587,646,705,764,823,882,941];
const tiOcpYTicks = [104,210,317,423,529,635,742,848,954];
const tiAirYTicks = [249,499,748];

// ---------------- styling ----------------
const FONT = '"Liberation Sans", Arial, Helvetica, sans-serif';
const HEAD_FONT = 'Lato';
const COLORS = {
  raw: '#ff0000', black: '#000000', blue: '#0000ff', green: '#0a8a0a',
  dgreen: '#0b6e0b', cyan: '#00e8f0', purple: '#8a2be2', orange: '#ff8a1a'
};
const LEGEND_TEXT = {
  'Al0': 'Al{sup|0}', 'Al2O3': 'Al{sub|2}O{sub|3}',
  'Cr0': 'Cr{sup|0}', 'Cr2O3': 'Cr{sub|2}O{sub|3}', 'Cr(OH)3': 'Cr(OH){sub|3}',
  'FeCr2O4': 'FeCr{sub|2}O{sub|4}', 'NiCr2O4': 'NiCr{sub|2}O{sub|4}',
  'Ti0': 'Ti{sup|0}', 'TiO2': 'TiO{sub|2}'
};
const LEGEND_COLOR = {
  'Fit Envelope': 'black', 'Al0': 'blue', 'Al2O3': 'green', 'Cr 3s': 'cyan', 'Cr3s': 'cyan',
  'Cr0': 'blue', 'Cr2O3': 'green', 'Cr(OH)3': 'purple', 'FeCr2O4': 'orange', 'NiCr2O4': 'cyan',
  'Ti0': 'blue', 'TiO2': 'green'
};
// Legend rows are 25px tall (room for the sub/superscripts); the gap pulls them back together
const LEGEND_ROW = 25;

// One entry per panel: box = [left, top, width, height] in px; legend.cy = centre of its first row
const PANELS = [
  { box: [157, 60, 390, 317], x: [69.47, 79.02], xTicks: alNegXTicks, xLabels: alNegXLabels, yTicks: alNegYTicks,
    yName: 'Normalized Intensity', xGap: 36, yGap: 21, tickFont: 16.5,
    legend: { left: 167, cy: 87, step: 20, font: 14.5, items: ['Raw Data', 'Fit Envelope', 'Al0', 'Al2O3', 'Cr 3s'] },
    series: [['raw', 'Raw Data', alNegRaw], ['cyan', 'Cr 3s', alNegCr3s], ['green', 'Al2O3', alNegAl2O3],
             ['black', 'Fit Envelope', alNegEnvelope], ['blue', 'Al0', alNegAl0]] },
  { box: [663, 58, 398, 315], x: [70, 77], xTicks: alXTicks, xLabels: alXLabels, yTicks: alOcpYTicks,
    yName: 'Intensity (a.u.)', xGap: 35, yGap: 23, tickFont: 16,
    legend: { left: 676, cy: 84, step: 21, font: 15, items: ['Raw Data', 'Fit Envelope', 'Al0', 'Al2O3', 'Cr3s'] },
    series: [['raw', 'Raw Data', alOcpRaw], ['green', 'Al2O3', alOcpAl2O3], ['cyan', 'Cr3s', alOcpCr3s],
             ['black', 'Fit Envelope', alOcpEnvelope], ['blue', 'Al0', alOcpAl0]] },
  { box: [1161, 59, 398, 314], x: [70, 77], xTicks: alXTicks, xLabels: alXLabels, yTicks: alAirYTicks,
    yName: 'Intensity (a.u.)', xGap: 36, yGap: 23, tickFont: 18,
    legend: { left: 1172, cy: 81, step: 21, font: 15, items: ['Raw Data', 'Fit Envelope', 'Al0', 'Al2O3', 'Cr3s'] },
    series: [['raw', 'Raw Data', alAirRaw], ['cyan', 'Cr3s', alAirCr3s], ['green', 'Al2O3', alAirAl2O3],
             ['black', 'Fit Envelope', alAirEnvelope], ['blue', 'Al0', alAirAl0]] },
  { box: [157, 452, 401, 317], x: [573.26, 582.48], xTicks: crNegXTicks, xLabels: crNegXLabels, yTicks: crNegYTicks,
    yName: 'Intensity (a.u.)', xGap: 34, yGap: 23, tickFont: 17.4,
    legend: { left: 164, cy: 476, step: 21, font: 15, items: ['Raw Data', 'Fit Envelope', 'Cr0', 'Cr2O3', 'Cr(OH)3', 'FeCr2O4'] },
    series: [['raw', 'Raw Data', crNegRaw], ['orange', 'FeCr2O4', crNegFeCr2O4C], ['orange', 'FeCr2O4', crNegFeCr2O4A],
             ['orange', 'FeCr2O4', crNegFeCr2O4B], ['green', 'Cr2O3', crNegCr2O3C], ['green', 'Cr2O3', crNegCr2O3A],
             ['green', 'Cr2O3', crNegCr2O3B], ['purple', 'Cr(OH)3', crNegCrOH3], ['blue', 'Cr0', crNegCr0],
             ['black', 'Fit Envelope', crNegEnvelope]] },
  { box: [664, 451, 398, 313], x: [569.26, 581.52], xTicks: crOcpXTicks, xLabels: crOcpXLabels, yTicks: crOcpYTicks,
    yName: 'Intensity (a.u.)', xGap: 37, yGap: 23, tickFont: 17.6,
    legend: { left: 916, cy: 483, step: 22, font: 15, items: ['Raw Data', 'Fit Envelope', 'Cr0', 'Cr2O3', 'Cr(OH)3', 'FeCr2O4', 'NiCr2O4'] },
    series: [['raw', 'Raw Data', crOcpRaw], ['purple', 'Cr(OH)3', crOcpCrOH3], ['blue', 'Cr0', crOcpCr0],
             ['orange', 'FeCr2O4', crOcpFeCr2O4A], ['orange', 'FeCr2O4', crOcpFeCr2O4B], ['orange', 'FeCr2O4', crOcpFeCr2O4C],
             ['green', 'Cr2O3', crOcpCr2O3A], ['green', 'Cr2O3', crOcpCr2O3B], ['green', 'Cr2O3', crOcpCr2O3C], ['green', 'Cr2O3', crOcpCr2O3D],
             ['cyan', 'NiCr2O4', crOcpNiCr2O4A], ['cyan', 'NiCr2O4', crOcpNiCr2O4B], ['cyan', 'NiCr2O4', crOcpNiCr2O4C], ['cyan', 'NiCr2O4', crOcpNiCr2O4D],
             ['black', 'Fit Envelope', crOcpEnvelope]] },
  { box: [1162, 452, 398, 314], x: [572, 580.99], xTicks: crAirXTicks, xLabels: crAirXLabels, yTicks: crAirYTicks,
    yName: 'Intensity (a.u.)', xGap: 35, yGap: 23, tickFont: 17.4,
    legend: { left: 1169, cy: 472, step: 20, font: 15, items: ['Raw Date', 'Fit Envelope', 'Cr0', 'Cr2O3'] },
    series: [['raw', 'Raw Date', crAirRaw], ['green', 'Cr2O3', crAirCr2O3F], ['green', 'Cr2O3', crAirCr2O3E],
             ['green', 'Cr2O3', crAirCr2O3D], ['green', 'Cr2O3', crAirCr2O3C], ['green', 'Cr2O3', crAirCr2O3B],
             ['green', 'Cr2O3', crAirCr2O3A], ['dgreen', 'Cr2O3', crAirBaseline], ['blue', 'Cr0', crAirCr0],
             ['black', 'Fit Envelope', crAirEnvelope]] },
  { box: [157, 844, 389, 317], x: [456, 461.48], xTicks: tiNegXTicks, xLabels: tiNegXLabels, yTicks: tiNegYTicks,
    yName: 'Intensity (a.u.)', xGap: 37, yGap: 23, tickFont: 16,
    legend: { left: 166, cy: 866, step: 19, font: 14.6, items: ['Raw Data', 'Fit Envelope', 'TiO2'] },
    series: [['raw', 'Raw Data', tiNegRaw], ['black', 'Fit Envelope', tiNegEnvelope], ['green', 'TiO2', tiNegTiO2]] },
  { box: [663, 842, 399, 314], x: [452, 462], xTicks: tiOcpXTicks, xLabels: tiOcpXLabels, yTicks: tiOcpYTicks,
    yName: 'Intensity (a.u.)', xGap: 37, yGap: 22, tickFont: 17.6,
    legend: { left: 673, cy: 863, step: 20, font: 15, items: ['Raw Data', 'Fit Envelope', 'Ti0', 'TiO2'] },
    series: [['raw', 'Raw Data', tiOcpRaw], ['blue', 'Ti0', tiOcpTi0A], ['blue', 'Ti0', tiOcpTi0B],
             ['green', 'TiO2', tiOcpTiO2], ['black', 'Fit Envelope', tiOcpEnvelope]] },
  { box: [1161, 841, 414, 327], x: [456, 462], xTicks: tiAirXTicks, xLabels: tiAirXLabels, yTicks: tiAirYTicks,
    yName: 'Intensity (a.u.)', xGap: 40, yGap: 24, tickFont: 18,
    legend: { left: 1183, cy: 868, step: 20, font: 15.8, items: ['Raw Data', 'Fit Envelope', 'Ti0', 'TiO2'] },
    series: [['raw', 'Raw Data', tiAirRaw], ['blue', 'Ti0', tiAirTi0], ['black', 'Fit Envelope', tiAirEnvelope],
             ['green', 'TiO2', tiAirTiO2]] }
];

// Column and row headings; a part with drop:true is set as a subscript
const HEADINGS = [
  { cx: 357, top: 11, parts: [{ t: '-0.25 V', size: 42 }, { t: 'SCE', size: 29, drop: true }, { t: ' (40 ks)', size: 42 }] },
  { cx: 863, top: 11, parts: [{ t: 'OCP (40 ks)', size: 43 }] },
  { cx: 1360, top: 7, parts: [{ t: 'Air-formed', size: 44 }] },
  { cx: 35, top: 214, parts: [{ t: 'Al', size: 42 }] },
  { cx: 35, top: 586, parts: [{ t: 'Cr', size: 42 }] },
  { cx: 35, top: 985, parts: [{ t: 'Ti', size: 42 }] }
];

const measureCtx = document.createElement('canvas').getContext('2d');
function headWidth(str, size) {
  measureCtx.font = 'bold ' + size + 'px ' + HEAD_FONT;
  return measureCtx.measureText(str).width;
}

const titles = [];
HEADINGS.forEach(hd => {
  const widths = hd.parts.map(pt => headWidth(pt.t, pt.size));
  const total = widths.reduce((a, b) => a + b, 0);
  let x = hd.cx - total / 2;
  hd.parts.forEach((pt, k) => {
    titles.push({
      text: pt.t, left: x, top: pt.drop ? hd.top + 20 : hd.top, padding: 0,
      textStyle: { fontFamily: HEAD_FONT, fontSize: pt.size, fontWeight: 'bold', color: '#000', lineHeight: pt.size }
    });
    x += widths[k];
  });
});

const grids = [], xAxes = [], yAxes = [], series = [], legends = [];
const axisLineStyle = { color: '#000', width: 1 };

PANELS.forEach((p, i) => {
  const [l, t, w, h] = p.box;
  grids.push({ left: l, top: t, width: w, height: h, containLabel: false });
  const xBase = { gridIndex: i, type: 'value', min: p.x[0], max: p.x[1], inverse: true,
    splitLine: { show: false }, axisLine: { show: true, onZero: false, lineStyle: axisLineStyle } };
  xAxes.push(Object.assign({}, xBase, {
    position: 'bottom',
    axisTick: { show: true, inside: true, length: 4, customValues: p.xTicks, lineStyle: axisLineStyle },
    axisLabel: { show: true, customValues: p.xLabels, margin: 7, color: '#000', fontFamily: FONT, fontSize: p.tickFont },
    name: 'Binding Energy (eV)', nameLocation: 'middle', nameGap: p.xGap,
    nameTextStyle: { color: '#000', fontFamily: FONT, fontSize: 16.7 }
  }));
  xAxes.push(Object.assign({}, xBase, {
    position: 'top',
    axisTick: { show: true, inside: true, length: 4, customValues: p.xTicks, lineStyle: axisLineStyle },
    axisLabel: { show: false }
  }));
  const yBase = { gridIndex: i, type: 'value', min: 0, max: 1000,
    splitLine: { show: false }, axisLine: { show: true, onZero: false, lineStyle: axisLineStyle },
    axisTick: { show: true, inside: true, length: 4, customValues: p.yTicks, lineStyle: axisLineStyle },
    axisLabel: { show: false } };
  yAxes.push(Object.assign({}, yBase, {
    position: 'left', name: p.yName, nameLocation: 'middle', nameGap: p.yGap, nameRotate: 90,
    nameTextStyle: { color: '#000', fontFamily: FONT, fontSize: 17 }
  }));
  yAxes.push(Object.assign({}, yBase, { position: 'right' }));

  p.series.forEach(([kind, name, data]) => {
    if (kind === 'raw') {
      series.push({ type: 'scatter', name, data, xAxisIndex: 2 * i, yAxisIndex: 2 * i,
        symbol: 'circle', symbolSize: 9, z: 2, silent: true,
        itemStyle: { color: 'rgba(255,255,255,0)', borderColor: COLORS.raw, borderWidth: 1 } });
    } else {
      series.push({ type: 'line', name, data, xAxisIndex: 2 * i, yAxisIndex: 2 * i,
        symbol: 'none', smooth: 0.4, z: 3, silent: true, color: COLORS[kind],
        lineStyle: { color: COLORS[kind], width: kind === 'black' ? 1 : 1.2 } });
    }
  });

  legends.push({
    show: true, orient: 'vertical', left: p.legend.left, top: p.legend.cy - LEGEND_ROW / 2, padding: 0,
    itemGap: p.legend.step - LEGEND_ROW, itemWidth: 32, itemHeight: 9, selectedMode: false,
    data: p.legend.items.map(n => n.startsWith('Raw')
      ? { name: n, icon: 'circle', itemStyle: { color: 'rgba(255,255,255,0)', borderColor: COLORS.raw, borderWidth: 1 } }
      : { name: n, icon: 'path://M0,0H32V1.2H0Z', itemStyle: { color: COLORS[LEGEND_COLOR[n]], borderWidth: 0 } }),
    formatter: n => LEGEND_TEXT[n] || n,
    textStyle: {
      color: '#000', fontFamily: FONT, fontSize: p.legend.font, lineHeight: LEGEND_ROW,
      rich: {
        sub: { fontFamily: FONT, fontSize: 9, verticalAlign: 'bottom', color: '#000' },
        sup: { fontFamily: FONT, fontSize: 8.5, verticalAlign: 'top', color: '#000', padding: [3, 0, 0, 0] }
      }
    }
  });
});

const chart = echarts.init(document.getElementById('chart'), null, { renderer: 'canvas' });
chart.setOption({
  animation: false,
  backgroundColor: '#ffffff',
  title: titles,
  grid: grids,
  xAxis: xAxes,
  yAxis: yAxes,
  legend: legends,
  series: series
});
</script>
</body>
</html>
